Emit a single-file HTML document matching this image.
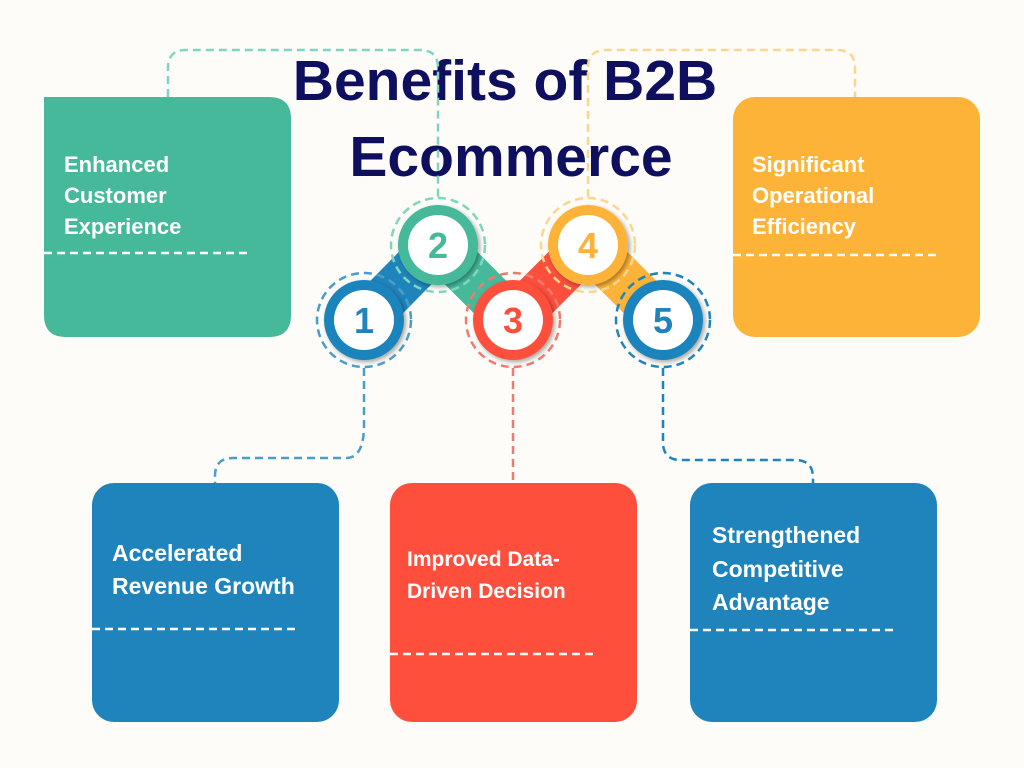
<!DOCTYPE html>
<html><head><meta charset="utf-8"><style>
html,body{margin:0;padding:0;background:#fdfcf8;}
svg{display:block;}
text{font-family:"Liberation Sans",sans-serif;}
</style></head><body>
<svg width="1024" height="768" viewBox="0 0 1024 768" xmlns="http://www.w3.org/2000/svg">
<rect width="1024" height="768" fill="#fdfcf8"/>
<defs>
<filter id="sh" x="-30%" y="-30%" width="160%" height="160%"><feDropShadow dx="2" dy="2" stdDeviation="2" flood-color="#000" flood-opacity="0.35"/></filter>
</defs>
<!-- title -->
<g fill="#0f0f5f" font-weight="bold" font-size="57" text-anchor="middle">
<text x="505" y="100">Benefits of B2B</text>
<text x="511" y="176">Ecommerce</text>
</g>
<!-- connectors -->
<g fill="none" stroke-width="2.5" stroke-dasharray="8,5">
<path d="M168,97 V68 Q168,50 186,50 H420 Q438,50 438,68 V197" stroke="#7fd6c0"/>
<path d="M588,197 V68 Q588,50 606,50 H837 Q855,50 855,68 V100" stroke="#fdd58f"/>
<path d="M364,368 V425 Q364,458 346,458 H233 Q215,458 215,476 V483" stroke="#4a9cc9"/>
<path d="M513,368 V483" stroke="#f07a6e"/>
<path d="M663,368 V442 Q663,460 681,460 H795 Q813,460 813,478 V483" stroke="#1f84bc"/>
</g>
<!-- boxes -->
<path d="M44,97 H269 Q291,97 291,119 V315 Q291,337 269,337 H66 Q44,337 44,315 Z" fill="#45b99a"/>
<rect x="733" y="97" width="247" height="240" rx="22" fill="#fdb338"/>
<rect x="92" y="483" width="247" height="239" rx="22" fill="#1f84bc"/>
<rect x="390" y="483" width="247" height="239" rx="22" fill="#fe4f3d"/>
<rect x="690" y="483" width="247" height="239" rx="22" fill="#1f84bc"/>
<g stroke="#fff" stroke-width="2.5" stroke-dasharray="8,5">
<line x1="44" y1="253" x2="252" y2="253"/>
<line x1="733" y1="255" x2="937" y2="255"/>
<line x1="92" y1="629" x2="300" y2="629"/>
<line x1="390" y1="654" x2="597" y2="654"/>
<line x1="690" y1="630" x2="898" y2="630"/>
</g>
<g fill="#fff" font-weight="bold" font-size="22">
<text x="64" y="172">Enhanced</text><text x="64" y="203">Customer</text><text x="64" y="234">Experience</text>
<text x="752" y="172">Significant</text><text x="752" y="203">Operational</text><text x="752" y="234">Efficiency</text>
<text x="112" y="561" font-size="23">Accelerated</text><text x="112" y="594" font-size="23">Revenue Growth</text>
<text x="407" y="566" font-size="21">Improved Data-</text><text x="407" y="598" font-size="21">Driven Decision</text>
<text x="712" y="543" font-size="23">Strengthened</text><text x="712" y="577" font-size="23">Competitive</text><text x="712" y="610" font-size="23">Advantage</text>
</g>
<!-- chain links -->
<g stroke-width="46">
<line x1="364" y1="320" x2="438" y2="245" stroke="#1f84bc"/>
<line x1="438" y1="245" x2="513" y2="320" stroke="#45b99a"/>
<line x1="513" y1="320" x2="588" y2="245" stroke="#fe4f3d"/>
<line x1="588" y1="245" x2="663" y2="320" stroke="#fdb338"/>
</g>
<!-- circles -->
<g font-weight="bold" font-size="36" text-anchor="middle">
<circle cx="364" cy="320" r="40" fill="#1f84bc" filter="url(#sh)"/><circle cx="364" cy="320" r="30" fill="#fff"/>
<circle cx="364" cy="320" r="47" fill="none" stroke="#4a9cc9" stroke-width="2.5" stroke-dasharray="8,5"/>
<text x="364" y="333" fill="#1f84bc">1</text>
<circle cx="438" cy="245" r="40" fill="#45b99a" filter="url(#sh)"/><circle cx="438" cy="245" r="30" fill="#fff"/>
<circle cx="438" cy="245" r="47" fill="none" stroke="#7fd6c0" stroke-width="2.5" stroke-dasharray="8,5"/>
<text x="438" y="258" fill="#45b99a">2</text>
<circle cx="513" cy="320" r="40" fill="#fe4f3d" filter="url(#sh)"/><circle cx="513" cy="320" r="30" fill="#fff"/>
<circle cx="513" cy="320" r="47" fill="none" stroke="#f07a6e" stroke-width="2.5" stroke-dasharray="8,5"/>
<text x="513" y="333" fill="#fe4f3d">3</text>
<circle cx="588" cy="245" r="40" fill="#fdb338" filter="url(#sh)"/><circle cx="588" cy="245" r="30" fill="#fff"/>
<circle cx="588" cy="245" r="47" fill="none" stroke="#fdd58f" stroke-width="2.5" stroke-dasharray="8,5"/>
<text x="588" y="258" fill="#fdb338">4</text>
<circle cx="663" cy="320" r="40" fill="#1f84bc" filter="url(#sh)"/><circle cx="663" cy="320" r="30" fill="#fff"/>
<circle cx="663" cy="320" r="47" fill="none" stroke="#1f84bc" stroke-width="2.5" stroke-dasharray="8,5"/>
<text x="663" y="333" fill="#1f84bc">5</text>
</g>
</svg>
</body></html>
